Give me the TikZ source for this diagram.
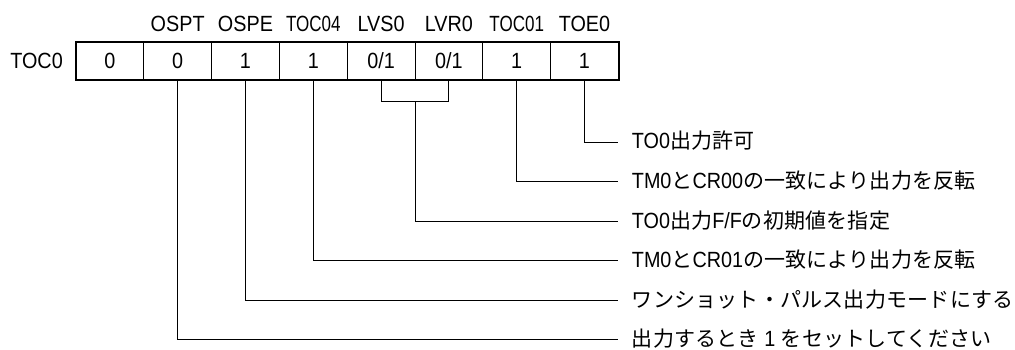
\documentclass[tikz,border=0pt]{standalone}
\usepackage{fontspec}
\setmainfont[FakeStretch=0.9]{Liberation Sans}
\newfontfamily\jpfont[LetterSpace=1]{Noto Sans CJK JP}
\newcommand\dfs{\fontsize{22}{26}\selectfont}
\newcommand\J[1]{{\jpfont\fontsize{21}{26}\selectfont #1}}
\newcommand\narrowlbl[1]{\scalebox{0.86}[1]{#1}}
\begin{document}
\begin{tikzpicture}[x=1pt,y=-1pt,
  cell/.style={draw, line width=0.7pt, minimum width=67.8pt, minimum height=37.5pt,
    inner sep=0pt, text height=15.5pt, text depth=0pt, font=\dfs},
  hdr/.style={inner sep=0pt, text height=15.5pt, text depth=0pt, font=\dfs},
  desc/.style={anchor=west, inner xsep=13.4pt, inner ysep=0pt, text height=14pt,
    text depth=0pt, font=\dfs},
  lead/.style={line width=0.85pt}]
\useasboundingbox (0,0) rectangle (1015,350);
% register cells
\node[cell] (c1) at (109.9,61.25) {0};
\node[cell] (c2) at (177.7,61.25) {0};
\node[cell] (c3) at (245.5,61.25) {1};
\node[cell] (c4) at (313.3,61.25) {1};
\node[cell] (c5) at (381.1,61.25) {0/1};
\node[cell] (c6) at (448.9,61.25) {0/1};
\node[cell] (c7) at (516.7,61.25) {1};
\node[cell] (c8) at (584.5,61.25) {1};
\draw[line width=2pt] (c1.north west) rectangle (c8.south east);
% register name
\node[hdr, anchor=east] (reg) at (63,61.25) {TOC0};
% bit names
\path (c2.center) ++(0,-37) node[hdr] (h2) {OSPT};
\path (c3.center) ++(0,-37) node[hdr] (h3) {OSPE};
\path (c4.center) ++(0,-37) node[hdr] (h4) {\narrowlbl{TOC04}};
\path (c5.center) ++(0,-37) node[hdr] (h5) {LVS0};
\path (c6.center) ++(0,-37) node[hdr] (h6) {LVR0};
\path (c7.center) ++(0,-37) node[hdr] (h7) {\narrowlbl{TOC01}};
\path (c8.center) ++(0,-37) node[hdr] (h8) {TOE0};
% descriptions
\node[desc] (d1) at (618.3,142) {TO0\J{出力許可}};
\node[desc] (d2) at (618.3,181.5) {TM0\J{と}CR00\J{の一致により出力を反転}};
\node[desc] (d3) at (618.3,221) {TO0\J{出力}F/F\J{の初期値を指定}};
\node[desc] (d4) at (618.3,260.5) {TM0\J{と}CR01\J{の一致により出力を反転}};
\node[desc] (d5) at (618.3,300) {\J{ワンショット・パルス出力モードにする}};
\node[desc] (d6) at (618.3,339) {\J{出力するとき} 1 \J{をセットしてください}};
% leaders
\coordinate (bm) at (415,101.7);
\draw[lead] (c8.south) |- (d1.west);
\draw[lead] (c7.south) |- (d2.west);
\draw[lead] (c5.south) |- (bm) -| (c6.south);
\draw[lead] (bm) |- (d3.west);
\draw[lead] (c4.south) |- (d4.west);
\draw[lead] (c3.south) |- (d5.west);
\draw[lead] (c2.south) |- (d6.west);
\end{tikzpicture}
\end{document}
